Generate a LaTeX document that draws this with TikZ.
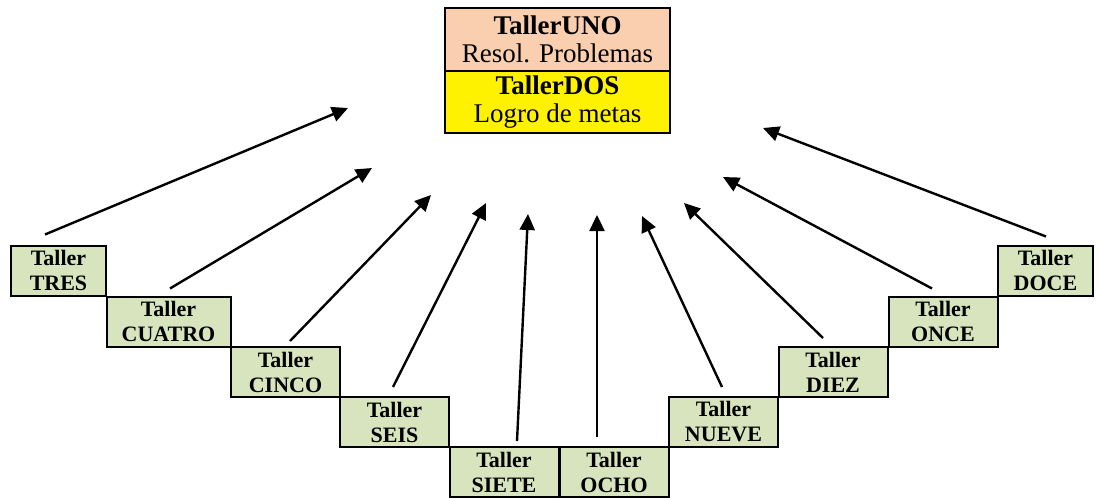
\documentclass[tikz,border=0pt]{standalone}
\usepackage{fontspec}
\setmainfont{Liberation Serif}
\usepackage{tikz}
\usetikzlibrary{positioning,arrows.meta}
\definecolor{stepgreen}{HTML}{D7E4BD}
\definecolor{peach}{HTML}{F9CFB0}

\begin{document}
\begin{tikzpicture}[x=0.5pt, y=-0.5pt,
    stair/.style={rectangle, draw, line width=1pt, fill=stepgreen, inner sep=0pt, align=center,
        minimum width=#1, minimum height=25pt, font=\fontsize{11}{12.5}\selectfont\bfseries},
    stair/.default=54.5pt,
    goal/.style={rectangle, draw, line width=1.1pt, fill=#1, inner sep=0pt, align=center,
        minimum width=112.5pt, minimum height=31.25pt, font=\fontsize{13.5}{14}\selectfont},
    arrow/.style={-{Triangle[length=8pt,width=7.5pt]}, line width=1.2pt}
]
\useasboundingbox (0,0) rectangle (1099,498);

\node[goal=peach]  (uno) at (557.5,39.5)  {\textbf{TallerUNO}\\Resol. Problemas};
\node[goal=yellow] (dos) at (557.5,102) {\textbf{TallerDOS}\\Logro de metas};

\node[stair=47.5pt]  (tres)   at (58.5,270.5)  {Taller\\TRES};
\node[stair=62pt]    (cuatro) at (168.5,321.5) {Taller\\CUATRO};
\node[stair]         (cinco)  at (285.5,372)   {Taller\\CINCO};
\node[stair]         (seis)   at (394.5,422)   {Taller\\SEIS};
\node[stair]         (siete)  at (504,472)     {Taller\\SIETE};
\node[stair]         (ocho)   at (614,472)     {Taller\\OCHO};
\node[stair]         (nueve)  at (723.5,422)   {Taller\\NUEVE};
\node[stair]         (diez)   at (833,372)     {Taller\\DIEZ};
\node[stair]         (once)   at (943,321.5)   {Taller\\ONCE};
\node[stair=47.5pt]  (doce)   at (1045.5,270.5) {Taller\\DOCE};

\coordinate (h3)  at (348,108);
\coordinate (h4)  at (372,168);
\coordinate (h5)  at (431,195);
\coordinate (h6)  at (486,203);
\coordinate (h7)  at (528,214);
\coordinate (h8)  at (597,215);
\coordinate (h9)  at (642,216);
\coordinate (h10) at (684,203);
\coordinate (h11) at (723,177);
\coordinate (h12) at (763,128);

\draw[arrow] ([shift={(-13.5,-10)}]tres.north) -- (h3);
\draw[arrow] ([shift={(1.5,-7)}]cuatro.north) -- (h4);
\draw[arrow] ([shift={(4.5,-5)}]cinco.north) -- (h5);
\draw[arrow] ([shift={(-1.5,-9)}]seis.north) -- (h6);
\draw[arrow] ([shift={(13,-5)}]siete.north) -- (h7);
\draw[arrow] ([shift={(-17,-9)}]ocho.north) -- (h8);
\draw[arrow] ([shift={(-1.5,-9)}]nueve.north) -- (h9);
\draw[arrow] ([shift={(-10,-8)}]diez.north) -- (h10);
\draw[arrow] ([shift={(-11,-7)}]once.north) -- (h11);
\draw[arrow] ([shift={(0.5,-8)}]doce.north) -- (h12);
\end{tikzpicture}
\end{document}
